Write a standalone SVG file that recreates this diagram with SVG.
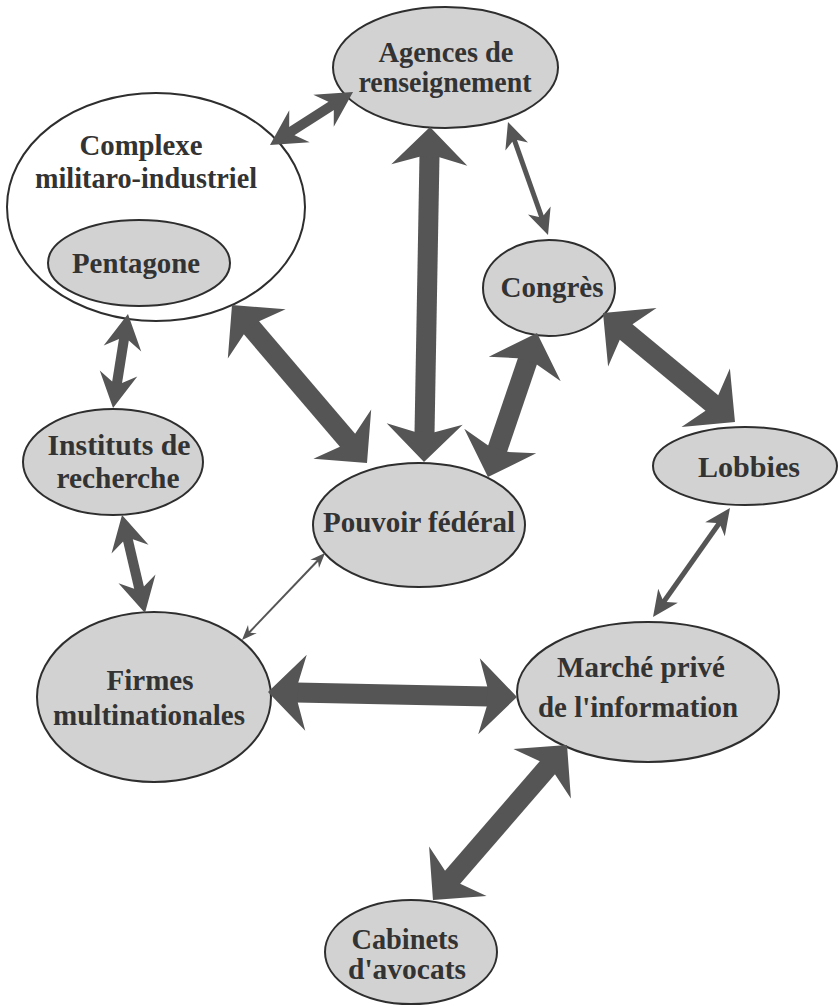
<svg xmlns="http://www.w3.org/2000/svg" width="840" height="1006" viewBox="0 0 840 1006">
<style>
.node{fill:#d2d2d2;stroke:#2e2e2e;stroke-width:2}
.white{fill:#ffffff;stroke:#2e2e2e;stroke-width:2}
.lbl{font-family:"Liberation Serif","Times New Roman",serif;font-weight:bold;font-size:30px;fill:#333333;text-anchor:middle}
.c{fill:none;stroke:#555555;stroke-linecap:butt}
.thick{stroke-width:20;marker-start:url(#hT);marker-end:url(#hT)}
.med{stroke-width:10;marker-start:url(#hM);marker-end:url(#hM)}
.small{stroke-width:5;marker-start:url(#hS);marker-end:url(#hS)}
.thin{stroke-width:2;marker-start:url(#hN);marker-end:url(#hN)}
</style>
<defs>
<marker id="hT" markerUnits="userSpaceOnUse" orient="auto-start-reverse" refX="10" refY="0" markerWidth="38" markerHeight="76" overflow="visible">
<path d="M38,0 L0,-38 L8,-10 L8,10 L0,38 Z" fill="#555555"/>
</marker>
<marker id="hM" markerUnits="userSpaceOnUse" orient="auto-start-reverse" refX="11" refY="0" markerWidth="35" markerHeight="38" overflow="visible">
<path d="M35,0 L0,-19 L9,-5 L9,5 L0,19 Z" fill="#555555"/>
</marker>
<marker id="hS" markerUnits="userSpaceOnUse" orient="auto-start-reverse" refX="8" refY="0" markerWidth="26" markerHeight="24" overflow="visible">
<path d="M26,0 L0,-12 L6,-2.5 L6,2.5 L0,12 Z" fill="#555555"/>
</marker>
<marker id="hN" markerUnits="userSpaceOnUse" orient="auto-start-reverse" refX="6" refY="0" markerWidth="15" markerHeight="12" overflow="visible">
<path d="M15,0 L0,-6 L4,-1 L4,1 L0,6 Z" fill="#555555"/>
</marker>
</defs>
<rect width="840" height="1006" fill="#ffffff"/>
<g id="complexe">
<ellipse class="white" cx="156" cy="207" rx="149" ry="114"/>
<text class="lbl" x="141" y="155" textLength="123" lengthAdjust="spacingAndGlyphs">Complexe</text>
<text class="lbl" x="146" y="188" textLength="222" lengthAdjust="spacingAndGlyphs">militaro-industriel</text>
</g>
<g id="pentagone">
<ellipse class="node" cx="139" cy="263" rx="91" ry="43"/>
<text class="lbl" x="136" y="273" textLength="128" lengthAdjust="spacingAndGlyphs">Pentagone</text>
</g>
<g id="agences">
<ellipse class="node" cx="445.5" cy="67.5" rx="112.5" ry="60.5"/>
<text class="lbl" x="446" y="62" textLength="135" lengthAdjust="spacingAndGlyphs">Agences de</text>
<text class="lbl" x="445" y="92" textLength="173" lengthAdjust="spacingAndGlyphs">renseignement</text>
</g>
<g id="congres">
<ellipse class="node" cx="549" cy="288" rx="66" ry="48"/>
<text class="lbl" x="552" y="297" textLength="103" lengthAdjust="spacingAndGlyphs">Congrès</text>
</g>
<g id="lobbies">
<ellipse class="node" cx="745" cy="466" rx="92" ry="39"/>
<text class="lbl" x="749" y="477" textLength="102" lengthAdjust="spacingAndGlyphs">Lobbies</text>
</g>
<g id="instituts">
<ellipse class="node" cx="113" cy="462" rx="90" ry="53"/>
<text class="lbl" x="119" y="455" textLength="143" lengthAdjust="spacingAndGlyphs">Instituts de</text>
<text class="lbl" x="118" y="488" textLength="123" lengthAdjust="spacingAndGlyphs">recherche</text>
</g>
<g id="pouvoir">
<ellipse class="node" cx="419" cy="525" rx="106" ry="62"/>
<text class="lbl" x="419" y="532" textLength="192" lengthAdjust="spacingAndGlyphs">Pouvoir fédéral</text>
</g>
<g id="firmes">
<ellipse class="node" cx="154" cy="697" rx="117" ry="85"/>
<text class="lbl" x="150" y="690" textLength="87" lengthAdjust="spacingAndGlyphs">Firmes</text>
<text class="lbl" x="149" y="725" textLength="192" lengthAdjust="spacingAndGlyphs">multinationales</text>
</g>
<g id="marche">
<ellipse class="node" cx="648" cy="692" rx="131" ry="70"/>
<text class="lbl" x="641" y="677" textLength="168" lengthAdjust="spacingAndGlyphs">Marché privé</text>
<text class="lbl" x="638" y="717" textLength="200" lengthAdjust="spacingAndGlyphs">de l'information</text>
</g>
<g id="cabinets">
<ellipse class="node" cx="411" cy="952" rx="86" ry="52"/>
<text class="lbl" x="405" y="949" textLength="107" lengthAdjust="spacingAndGlyphs">Cabinets</text>
<text class="lbl" x="407" y="979" textLength="118" lengthAdjust="spacingAndGlyphs">d'avocats</text>
</g>
<g id="connectors">
<line class="c thick" x1="250.2" y1="326.3" x2="348.8" y2="441.7"/>
<line class="c thick" x1="429.5" y1="155" x2="424.5" y2="434"/>
<line class="c thick" x1="528" y1="359.5" x2="497" y2="450.5"/>
<line class="c thick" x1="624.6" y1="330.8" x2="713.4" y2="404.2"/>
<line class="c thick" x1="296" y1="692.6" x2="489" y2="696.4"/>
<line class="c thick" x1="548.7" y1="766.2" x2="451.3" y2="878.8"/>
<line class="c med" x1="290.2" y1="132.1" x2="332.8" y2="104.9"/>
<line class="c med" x1="124.2" y1="337.7" x2="116.8" y2="384.3"/>
<line class="c med" x1="127.5" y1="538.4" x2="139.5" y2="589.6"/>
<line class="c small" x1="514" y1="139" x2="542" y2="218"/>
<line class="c small" x1="719.6" y1="522.7" x2="663.4" y2="602.3"/>
<line class="c thin" x1="318.8" y1="559.5" x2="248.2" y2="633.5"/>
</g>
</svg>
